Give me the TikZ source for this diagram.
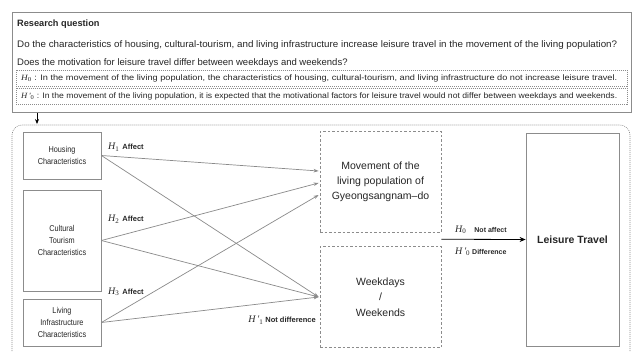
\documentclass[tikz,border=0pt]{standalone}
\usepackage{fontspec}
\usepackage{graphicx}
\setmainfont{Liberation Sans}
\newfontfamily\cond{Liberation Sans}[FakeStretch=0.86]
\newfontfamily\hserif{Liberation Serif}
\usetikzlibrary{arrows.meta,calc}
\definecolor{boxgray}{HTML}{8C8C8C}
\definecolor{linegray}{HTML}{8A8A8A}
\definecolor{txt}{HTML}{262626}
\newcommand{\Hs}[1]{{\hserif\itshape H}\textsubscript{\hserif #1}}
\newcommand{\Hp}[1]{{\hserif\itshape H\,'}\textsubscript{\hserif #1}}
\newcommand{\smb}{\bfseries\fontsize{7.5}{9}\selectfont}
\newcommand{\smc}{\bfseries\fontsize{7}{9}\selectfont}
\tikzset{
  srcbox/.style={draw=boxgray, line width=0.8pt, minimum width=78, inner sep=0, align=center, text=txt, font=\cond\fontsize{8.5}{12}\selectfont},
  dbox/.style={draw=boxgray, line width=0.8pt, dash pattern=on 2.5pt off 2pt, minimum width=121, minimum height=101, inner sep=0, align=center, text=txt, font=\fontsize{10.5}{15}\selectfont},
  conn/.style={draw=linegray, line width=0.7pt, -{Stealth[length=5pt,width=3.5pt]}},
  lab/.style={inner sep=0, text=txt, font=\fontsize{10}{11}\selectfont}
}
\begin{document}
\begin{tikzpicture}[x=1pt,y=-1pt]
\useasboundingbox (0,0) rectangle (635,351);
\fill[white] (0,0) rectangle (635,351);
% research question panel
\node[draw=boxgray, line width=0.8pt, minimum width=619, minimum height=100, anchor=north west, inner sep=0] (rq) at (12,12) {};
\node[anchor=west, inner sep=0, text=txt, font=\bfseries\fontsize{9.2}{11}\selectfont] (title) at (17,24) {Research question};
\node[anchor=west, inner sep=0, text=txt] (q1) at (17,45) {\resizebox{600pt}{\height}{\fontsize{9.5}{11}\selectfont Do the characteristics of housing, cultural-tourism, and living infrastructure increase leisure travel in the movement of the living population?}};
\node[anchor=west, inner sep=0, text=txt, font=\fontsize{9.5}{11}\selectfont] (q2) at (17,63) {Does the motivation for leisure travel differ between weekdays and weekends?};
\node[draw=boxgray, line width=0.6pt, dash pattern=on 1pt off 1pt, minimum width=611, minimum height=16, anchor=north west, inner sep=0] (h0box) at (16,70) {};
\node[anchor=west, inner sep=0, text=txt] (h0t) at (21,78) {\resizebox{596pt}{\height}{\fontsize{8}{9}\selectfont\Hs{0} : In the movement of the living population, the characteristics of housing, cultural-tourism, and living infrastructure do not increase leisure travel.}};
\node[draw=boxgray, line width=0.6pt, dash pattern=on 1pt off 1pt, minimum width=611, minimum height=16, anchor=north west, inner sep=0] (hp0box) at (16,88) {};
\node[anchor=west, inner sep=0, text=txt] (hp0t) at (21,96) {\resizebox{596pt}{\height}{\fontsize{8}{9}\selectfont\Hp{0} : In the movement of the living population, it is expected that the motivational factors for leisure travel would not differ between weekdays and weekends.}};
% arrow down
\coordinate (a0) at ($(rq.south west)+(25,0)$);
\coordinate (a1) at (37,124);
\draw[black, line width=0.8pt, -{Stealth[length=5pt,width=4pt]}] (a0) -- (a1);
% lower panel
\draw[draw=boxgray, line width=0.6pt, dash pattern=on 1pt off 1pt, rounded corners=10pt] (12,365) -- (12,125) -- (630,125) -- (630,365);
% source boxes
\node[srcbox, minimum height=47] (hou) at (62,155.5) {Housing\\Characteristics};
\node[srcbox, minimum height=101] (cul) at (62,240.5) {Cultural\\Tourism\\Characteristics};
\node[srcbox, minimum height=47] (liv) at (62,322.5) {Living\\Infrastructure\\Characteristics};
% middle boxes
\node[dbox] (mov) at (380.5,181.5) {Movement of the\\living population of\\Gyeongsangnam--do};
\node[dbox, font=\fontsize{10.5}{15.5}\selectfont] (wk) at (380.5,297) {Weekdays\\/\\Weekends};
% leisure travel
\node[draw=boxgray, line width=0.8pt, minimum width=93, minimum height=213, inner sep=0, text=txt, font=\bfseries\fontsize{10.5}{12}\selectfont] (lt) at (572.5,239.5) {Leisure Travel};
% targets on movement box
\coordinate (m1) at ($(mov.west)+(-1,-10.5)$);
\coordinate (m2) at ($(mov.west)+(-1,1.5)$);
\coordinate (m3) at ($(mov.west)+(-1,13.5)$);
\coordinate (w0) at ($(wk.west)+(-1,0)$);
\draw[conn] (hou.east) -- (m1);
\draw[conn] (cul.east) -- (m2);
\draw[conn] (liv.east) -- (m3);
\draw[conn] (hou.east) -- (w0);
\draw[conn] (cul.east) -- (w0);
\draw[conn] (liv.east) -- (w0);
% labels
\node[lab, anchor=west] (l1) at (108,147) {\Hs{1}\hspace{3pt}{\smb Affect}};
\node[lab, anchor=west] (l2) at (108,219) {\Hs{2}\hspace{3pt}{\smb Affect}};
\node[lab, anchor=west] (l3) at (108,292) {\Hs{3}\hspace{3pt}{\smb Affect}};
\node[lab, anchor=east] (l4) at (316,320) {\Hp{1}\hspace{2pt}{\smb Not difference}};
% main arrow
\coordinate (mid) at ($(mov.south east)!0.5!(wk.north east)$);
\draw[black, line width=0.8pt, -{Stealth[length=6pt,width=5pt]}] (mid) -- (lt.west);
\node[lab, anchor=west] (l5) at (455,230) {\Hs{0}\hspace{8pt}{\smc Not affect}};
\node[lab, anchor=west] (l6) at (455,252) {\Hp{0}\hspace{2pt}{\smc Difference}};
\end{tikzpicture}
\end{document}
